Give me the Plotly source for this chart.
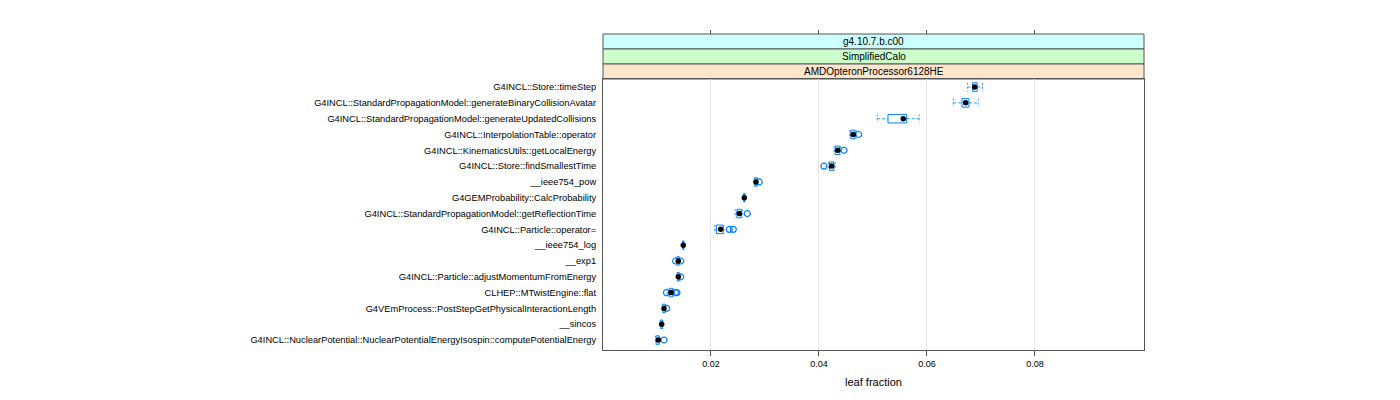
import plotly.graph_objects as go

categories = [
    "G4INCL::Store::timeStep",
    "G4INCL::StandardPropagationModel::generateBinaryCollisionAvatar",
    "G4INCL::StandardPropagationModel::generateUpdatedCollisions",
    "G4INCL::InterpolationTable::operator",
    "G4INCL::KinematicsUtils::getLocalEnergy",
    "G4INCL::Store::findSmallestTime",
    "__ieee754_pow",
    "G4GEMProbability::CalcProbability",
    "G4INCL::StandardPropagationModel::getReflectionTime",
    "G4INCL::Particle::operator=",
    "__ieee754_log",
    "__exp1",
    "G4INCL::Particle::adjustMomentumFromEnergy",
    "CLHEP::MTwistEngine::flat",
    "G4VEmProcess::PostStepGetPhysicalInteractionLength",
    "__sincos",
    "G4INCL::NuclearPotential::NuclearPotentialEnergyIsospin::computePotentialEnergy",
]
whisker_low = [0.06752, 0.06487, 0.05080, 0.04570, 0.04280, 0.04180, 0.02800, 0.02600, 0.02450, 0.02070, 0.01470, 0.01350, 0.01370, 0.01190, 0.01100, 0.01060, 0.00970]
q1 = [0.06846, 0.06648, 0.05278, 0.04590, 0.04300, 0.04195, 0.02810, 0.02608, 0.02480, 0.02100, 0.01478, 0.01370, 0.01380, 0.01230, 0.01110, 0.01070, 0.00985]
median = [0.06883, 0.06717, 0.05561, 0.04635, 0.04346, 0.04235, 0.02833, 0.02617, 0.02525, 0.02179, 0.01487, 0.01395, 0.01395, 0.01259, 0.01130, 0.01087, 0.01025]
q3 = [0.06931, 0.06778, 0.05624, 0.04670, 0.04385, 0.04275, 0.02850, 0.02625, 0.02560, 0.02225, 0.01495, 0.01410, 0.01410, 0.01290, 0.01150, 0.01100, 0.01037]
whisker_high = [0.07029, 0.06950, 0.05857, 0.04690, 0.04400, 0.04300, 0.02860, 0.02630, 0.02580, 0.02240, 0.01500, 0.01420, 0.01420, 0.01310, 0.01160, 0.01110, 0.01050]
outliers = [[], [], [], [0.04735], [0.04463], [0.04093], [0.02894], [], [0.02672],
            [0.02339, 0.02413], [], [0.01345, 0.01440], [0.01438], [0.01175, 0.01345, 0.01370],
            [0.01179], [], [0.01130]]

x_ticks = [0.02, 0.04, 0.06, 0.08]
strip_labels = ["g4.10.7.b.c00", "SimplifiedCalo", "AMDOpteronProcessor6128HE"]
strip_colors = ["#ccffff", "#ccffcc", "#ffe5cc"]

BLUE = "#0080ff"
FONT = "Liberation Sans, Arial, sans-serif"
h = 0.27
xr = [0.0, 0.1002]

bx, by, wx, wy, cx, cy, ox, oy = [], [], [], [], [], [], [], []
for i in range(len(categories)):
    bx += [q1[i], q3[i], q3[i], q1[i], q1[i], None]
    by += [i - h, i - h, i + h, i + h, i - h, None]
    wx += [whisker_low[i], q1[i], None, q3[i], whisker_high[i], None]
    wy += [i, i, None, i, i, None]
    cx += [whisker_low[i], whisker_low[i], None, whisker_high[i], whisker_high[i], None]
    cy += [i - h, i + h, None, i - h, i + h, None]
    for o in outliers[i]:
        ox.append(o)
        oy.append(i)

fig = go.Figure()
fig.add_trace(go.Scatter(x=wx, y=wy, mode="lines", line=dict(color=BLUE, width=1, dash="3px,2px"), opacity=0.8, hoverinfo="skip"))
fig.add_trace(go.Scatter(x=cx, y=cy, mode="lines", line=dict(color=BLUE, width=1, dash="2px,2px"), opacity=0.8, hoverinfo="skip"))
fig.add_trace(go.Scatter(x=bx, y=by, mode="lines", line=dict(color=BLUE, width=1), hoverinfo="skip"))
fig.add_trace(go.Scatter(x=ox, y=oy, mode="markers",
                         marker=dict(symbol="circle-open", size=6, color=BLUE, line=dict(width=1.2))))
fig.add_trace(go.Scatter(x=median, y=list(range(len(categories))), mode="markers",
                         marker=dict(symbol="circle", size=5.5, color="black")))

dom_top = 271 / 316
strip_h = (1 - dom_top) / 3
shapes = []
annotations = []
for k, (lab, col) in enumerate(zip(strip_labels, strip_colors)):
    y1 = 1 - k * strip_h
    y0 = y1 - strip_h
    shapes.append(dict(type="rect", xref="paper", yref="paper", x0=0, x1=1, y0=y0, y1=y1,
                       fillcolor=col, line=dict(color="#555555", width=1), layer="below"))
    annotations.append(dict(text=lab, xref="paper", yref="paper", x=0.5, y=(y0 + y1) / 2,
                            showarrow=False, font=dict(family=FONT, size=10, color="black"),
                            xanchor="center", yanchor="middle"))

fig.update_layout(
    width=1400, height=400,
    margin=dict(l=595, r=264, t=26, b=58),
    paper_bgcolor="white", plot_bgcolor="white",
    showlegend=False,
    shapes=shapes, annotations=annotations,
    xaxis=dict(range=xr, tickvals=x_ticks, ticktext=[f"{v:.2f}" for v in x_ticks],
               showgrid=True, gridcolor="#e6e6e6", zeroline=False,
               showline=True, linecolor="#555555", mirror=True, linewidth=1,
               ticks="outside", ticklen=5, tickcolor="#555555",
               tickfont=dict(family=FONT, size=9, color="black"),
               title=dict(text="leaf fraction", font=dict(family=FONT, size=11, color="black"), standoff=10)),
    xaxis2=dict(range=xr, overlaying="x", side="top", anchor="free", position=1.0,
                tickvals=x_ticks, showticklabels=False, showgrid=False, zeroline=False,
                ticks="outside", ticklen=4, tickcolor="#555555", showline=False),
    yaxis=dict(domain=[0, dom_top], range=[16.63, -0.51], tickvals=list(range(len(categories))),
               ticktext=categories, showgrid=False, zeroline=False,
               showline=True, linecolor="#555555", mirror=True, linewidth=1,
               ticks="", ticklabelstandoff=4,
               tickfont=dict(family=FONT, size=9.3, color="black")),
)
fig.add_trace(go.Scatter(x=[None], y=[None], xaxis="x2", showlegend=False))

fig.write_html("out.html")
